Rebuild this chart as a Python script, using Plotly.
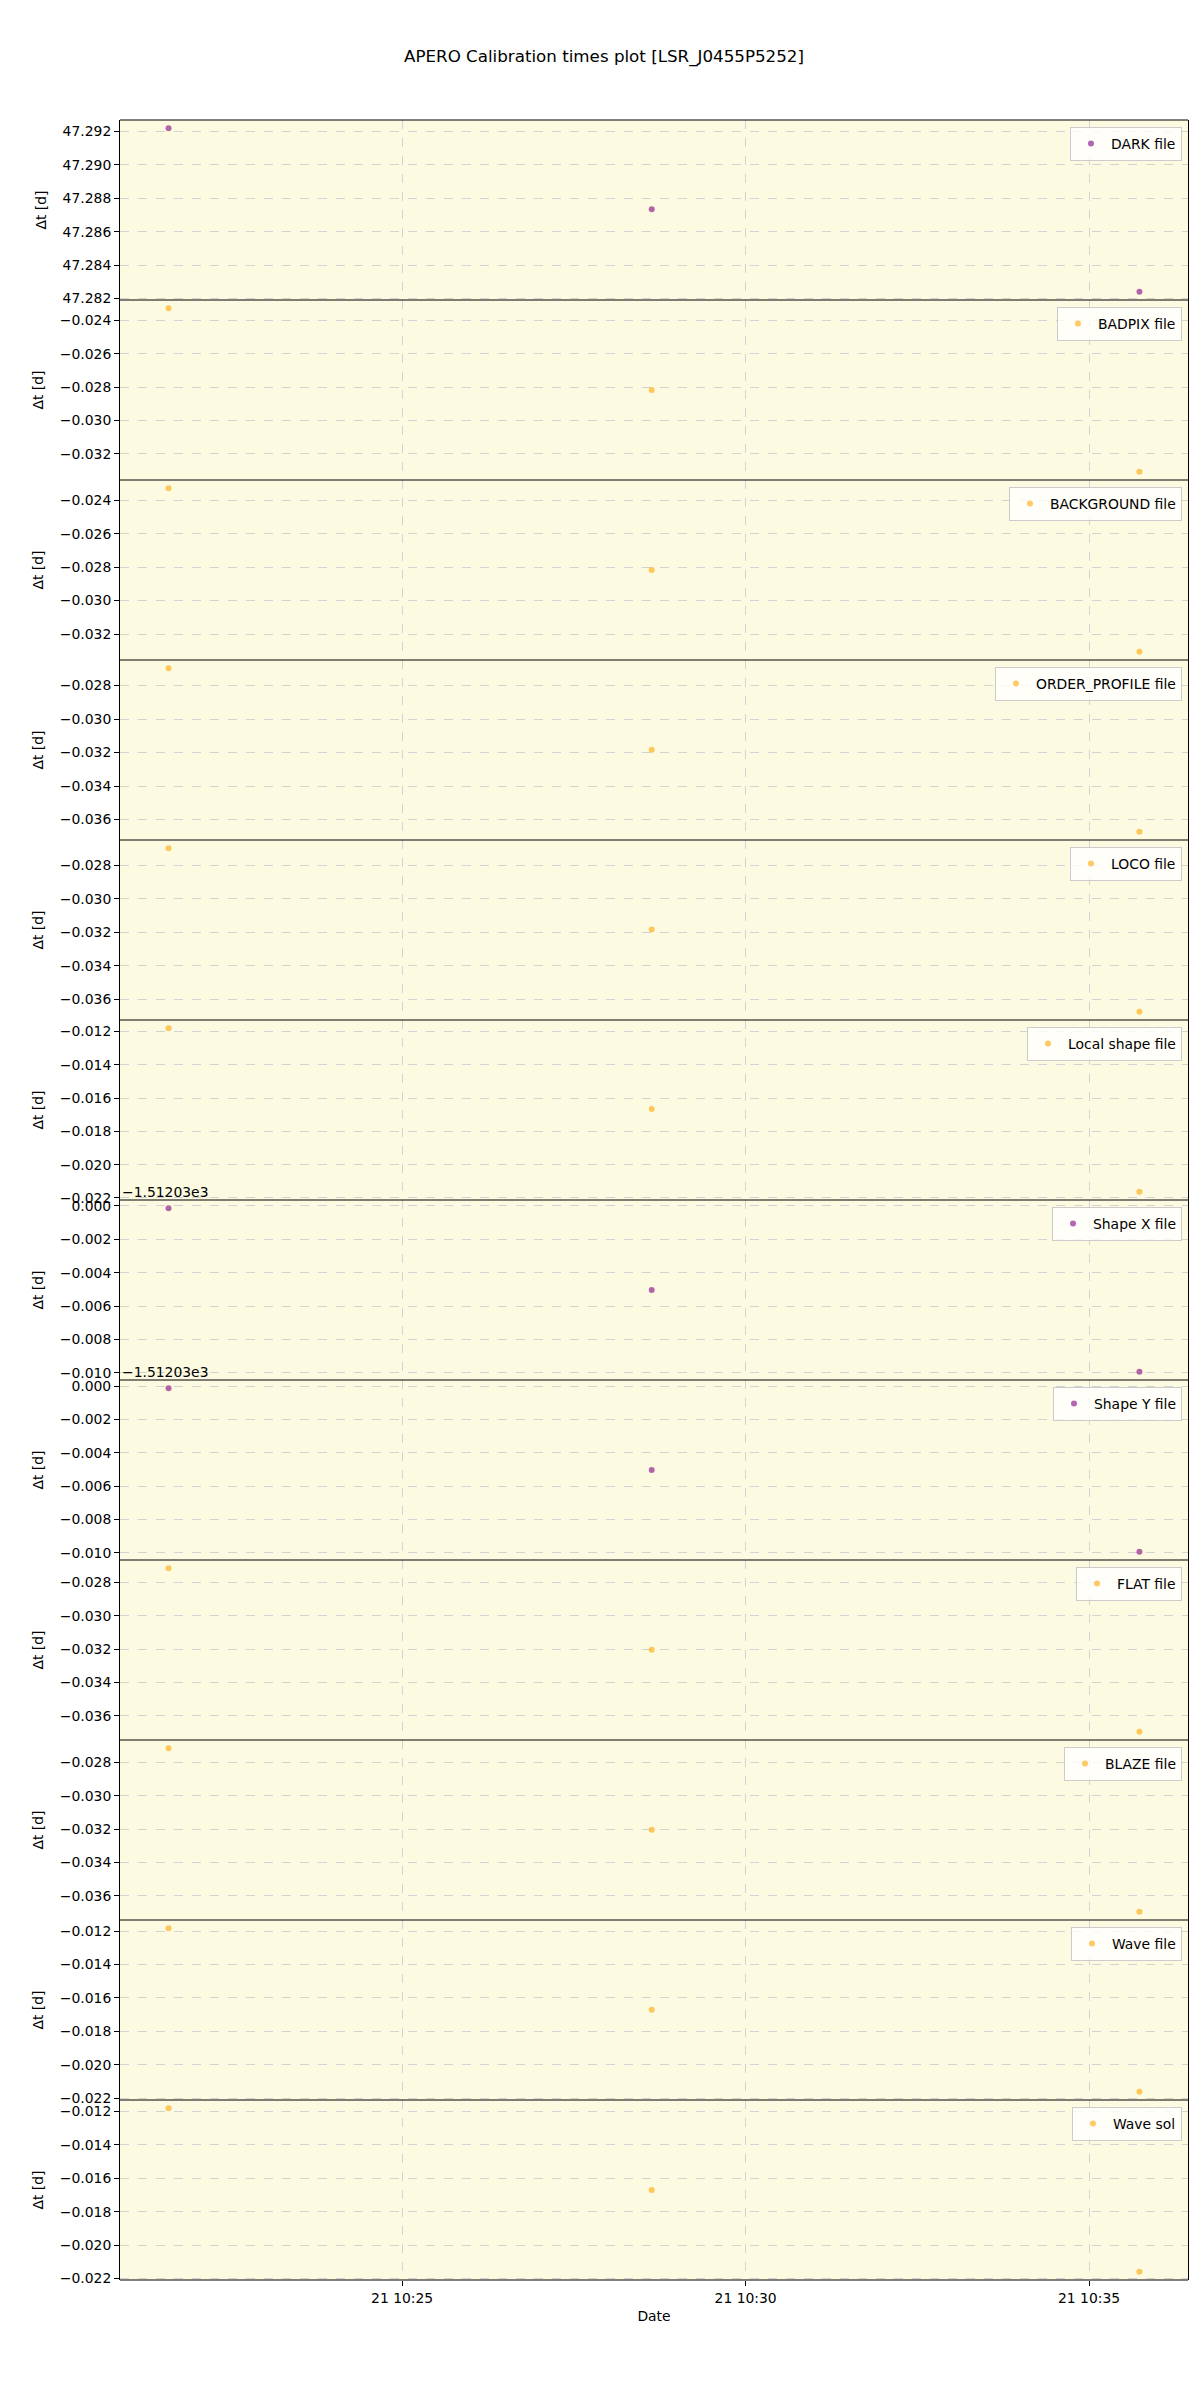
import plotly.graph_objects as go
from plotly.subplots import make_subplots

# ---------------- data ----------------
TITLE = "APERO Calibration times plot [LSR_J0455P5252]"
obs_times = ["2021-01-21 10:21:36", "2021-01-21 10:28:38", "2021-01-21 10:35:44"]
x_range = ["2021-01-21 10:20:53.6", "2021-01-21 10:36:26.4"]
x_tickvals = ["2021-01-21 10:25:00", "2021-01-21 10:30:00", "2021-01-21 10:35:00"]

labels = ["DARK file", "BADPIX file", "BACKGROUND file", "ORDER_PROFILE file",
          "LOCO file", "Local shape file", "Shape X file", "Shape Y file",
          "FLAT file", "BLAZE file", "Wave file", "Wave sol"]
kinds = ["purple", "orange", "orange", "orange", "orange", "orange",
         "purple", "purple", "orange", "orange", "orange", "orange"]

dark = [47.2922, 47.28734, 47.2824]
badpix = [-0.02328, -0.02818, -0.03307]
background = [-0.02328, -0.02817, -0.03306]
order_profile = [-0.02696, -0.03183, -0.03673]
loco = [-0.02698, -0.03184, -0.03676]
local_shape = [-0.01180, -0.01665, -0.02163]
shape_x = [-1512.03014, -1512.03504, -1512.03994]
shape_y = [-1512.03012, -1512.03503, -1512.03993]
flat = [-0.02715, -0.03205, -0.03697]
blaze = [-0.02715, -0.03205, -0.03697]
wave_file = [-0.01183, -0.01671, -0.02161]
wave_sol = [-0.01180, -0.01670, -0.02160]

series = [dark, badpix, background, order_profile, loco, local_shape,
          shape_x, shape_y, flat, blaze, wave_file, wave_sol]
offsets = [0, 0, 0, 0, 0, 0, -1512.03, -1512.03, 0, 0, 0, 0]
offset_text = "\u22121.51203e3"

# ---------------- styles ----------------
COLORS = {"purple": "rgba(128,0,128,0.6)", "orange": "rgba(255,165,0,0.6)"}
BG = "#fcfbe2"
GRID = "#d3d3d3"
FONT = "DejaVu Sans"
FS = 13.9
TFS = 16.7

# the page body has an 8px margin; compensate so the plot area lands at 120..1188 x 120..2280
BODY = 8
W, H = 1200 - BODY, 2400 - BODY
ML, MR, MT, MB = 120 - BODY, 12, 120 - BODY, 120
PW, PH = W - ML - MR, H - MT - MB
N = len(series)

fig = make_subplots(rows=N, cols=1, shared_xaxes=True, vertical_spacing=0)

for i, (vals, lab, kind, off) in enumerate(zip(series, labels, kinds, offsets)):
    ys = [v - off for v in vals]
    lg = "legend" if i == 0 else f"legend{i+1}"
    fig.add_trace(go.Scatter(
        x=obs_times, y=ys, mode="markers", name=lab,
        marker=dict(color=COLORS[kind], size=6, line=dict(width=0)),
        legend=lg, showlegend=True), row=i + 1, col=1)

    lo, hi = min(ys), max(ys)
    pad = (hi - lo) * 0.05
    yax = "yaxis" if i == 0 else f"yaxis{i+1}"
    fig.layout[yax].update(
        range=[lo - pad, hi + pad], dtick=0.002, tick0=0, tickformat=".3f",
        showgrid=True, gridcolor=GRID, griddash="dash", gridwidth=1,
        showline=True, linecolor="black", linewidth=1, mirror=True,
        ticks="outside", ticklen=5, tickcolor="black",
        tickfont=dict(family=FONT, size=FS, color="black"),
        zeroline=False,
        title=dict(text="\u0394t [d]", font=dict(family=FONT, size=FS, color="black"), standoff=12))
    xax = "xaxis" if i == 0 else f"xaxis{i+1}"
    fig.layout[xax].update(
        range=x_range, type="date", tickvals=x_tickvals, tickformat="%d %H:%M",
        showgrid=True, gridcolor=GRID, griddash="dash", gridwidth=1,
        showline=False,
        ticks="outside" if i == N - 1 else "", ticklen=5, tickcolor="black",
        showticklabels=(i == N - 1),
        tickfont=dict(family=FONT, size=FS, color="black"), zeroline=False)

    top = 1 - i / N
    fig.layout[lg] = dict(
        x=1 - 6 / PW, y=top - 7 / PH, xanchor="right", yanchor="top",
        bgcolor="rgba(255,255,255,0.8)", bordercolor="#cccccc", borderwidth=1,
        font=dict(family=FONT, size=FS, color="black"),
        itemwidth=30, tracegroupgap=0)

    # panel frame: horizontal boundary line at the top of each panel
    fig.add_shape(type="line", xref="paper", yref="paper", x0=0, x1=1, y0=top, y1=top,
                  line=dict(color="black", width=1), layer="above")

    if off != 0:
        fig.add_annotation(text=offset_text, xref="paper", yref="paper",
                           x=0, y=top, xanchor="left", yanchor="bottom",
                           showarrow=False, yshift=-2,
                           font=dict(family=FONT, size=FS, color="black"))

# bottom frame line
fig.add_shape(type="line", xref="paper", yref="paper", x0=0, x1=1, y0=0, y1=0,
              line=dict(color="black", width=1), layer="above")

fig.layout[f"xaxis{N}"].title = dict(text="Date", font=dict(family=FONT, size=FS, color="black"), standoff=6)

fig.update_layout(
    width=W, height=H,
    margin=dict(l=ML, r=MR, t=MT, b=MB),
    paper_bgcolor="white", plot_bgcolor=BG,
    title=dict(text=TITLE, x=0.5, xanchor="center", y=1 - (56 - BODY) / H, yanchor="middle",
               font=dict(family=FONT, size=TFS, color="black")),
    font=dict(family=FONT, size=FS, color="black"),
)

fig.write_html("out.html")
